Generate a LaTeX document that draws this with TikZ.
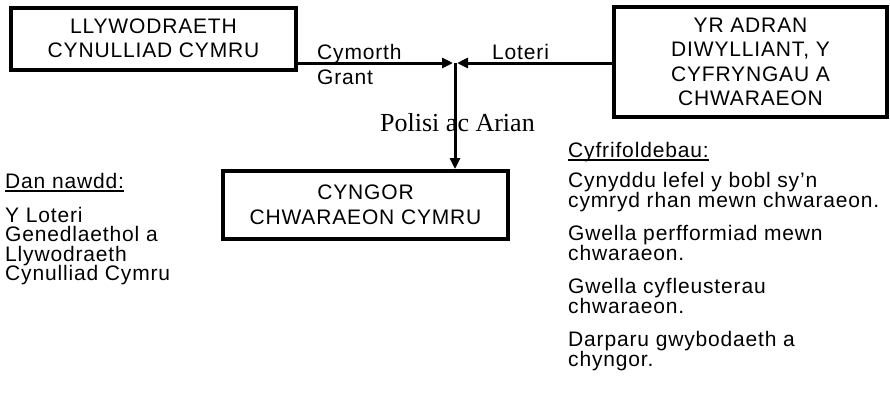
\documentclass[tikz,border=0pt]{standalone}
\usepackage{fontspec}
\setmainfont{Liberation Sans}[LetterSpace=4]
\newfontfamily\polfont{Liberation Serif}
\usetikzlibrary{arrows.meta}
\newcommand\myul[1]{\setbox0\hbox{#1}\rlap{\rule[-3.5pt]{\wd0}{1.6pt}}\box0}
\tikzset{
  boxnode/.style={draw, line width=4pt, align=center, inner sep=0pt,
    font=\fontsize{21}{24}\selectfont},
  conn/.style={line width=3pt, -{Triangle[length=11pt,width=10pt]}},
  txt/.style={anchor=base west, inner sep=0pt, font=\fontsize{21}{21}\selectfont},
  poltxt/.style={anchor=base west, inner sep=0pt, font=\fontsize{26}{26}\polfont}
}
\begin{document}
\begin{tikzpicture}[x=1pt,y=-1pt]
\useasboundingbox (0,0) rectangle (890,405);
% boxes
\node[boxnode, minimum width=285pt, minimum height=62pt] (A) at (153.5,38.5)
  {LLYWODRAETH\\CYNULLIAD CYMRU};
\node[boxnode, minimum width=273pt, minimum height=110pt, font=\fontsize{21}{24.5}\selectfont] (B) at (750.5,62)
  {YR ADRAN\\DIWYLLIANT, Y\\CYFRYNGAU A\\CHWARAEON};
\node[boxnode, minimum width=285pt, minimum height=68pt, font=\fontsize{21}{25}\selectfont] (C) at (365.5,205)
  {CYNGOR\\CHWARAEON CYMRU};
% connector labels
\node[txt] (cym) at (317,59) {Cymorth};
\node[txt] (gra) at (317,84) {Grant};
\node[txt] (lot) at (492,59) {Loteri};
\node[poltxt] (pol) at (380,131) {Polisi ac Arian};
% connectors
\coordinate (J) at (455,63);
\coordinate (Jl) at (453,63);
\coordinate (Jr) at (457,63);
\draw[conn] (A.east |- J) -- (Jl);
\draw[conn] (B.west |- J) -- (Jr);
\draw[conn] (J) -- (C.north -| J);
% left column
\node[txt] (l0) at (5,188) {\myul{Dan nawdd:}};
\node[txt] (l1) at (5,222) {Y Loteri};
\node[txt] (l2) at (5,241.5) {Genedlaethol a};
\node[txt] (l3) at (5,261) {Llywodraeth};
\node[txt] (l4) at (5,280.5) {Cynulliad Cymru};
% right column
\node[txt] (r0) at (568,157) {\myul{Cyfrifoldebau:}};
\node[txt] (r1) at (568,187) {Cynyddu lefel y bobl sy’n};
\node[txt] (r2) at (568,207) {cymryd rhan mewn chwaraeon.};
\node[txt] (r3) at (568,240) {Gwella perfformiad mewn};
\node[txt] (r4) at (568,260) {chwaraeon.};
\node[txt] (r5) at (568,293) {Gwella cyfleusterau};
\node[txt] (r6) at (568,313) {chwaraeon.};
\node[txt] (r7) at (568,346) {Darparu gwybodaeth a};
\node[txt] (r8) at (568,366) {chyngor.};
\end{tikzpicture}
\end{document}
